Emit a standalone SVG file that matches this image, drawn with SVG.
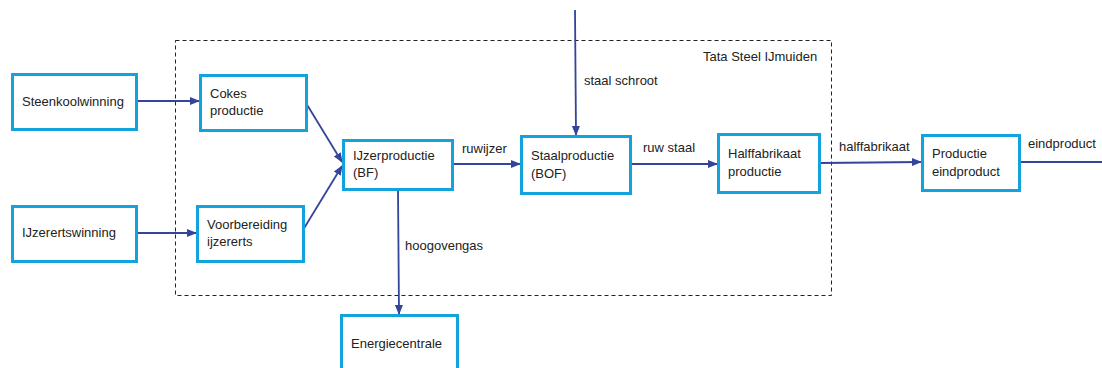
<svg xmlns="http://www.w3.org/2000/svg" width="1102" height="368" viewBox="0 0 1102 368">
<style>
.box{fill:#fff;stroke:#12A3DD;stroke-width:3}
.t{font-family:"Liberation Sans",Arial,sans-serif;font-size:13px;fill:#222}
.c{fill:none;stroke:#34449A;stroke-width:1.8}
.frame{fill:none;stroke:#222;stroke-width:1;stroke-dasharray:4 3}
</style>
<defs>
<marker id="ah" viewBox="0 0 10 10" refX="9" refY="5" markerWidth="10" markerHeight="10" markerUnits="userSpaceOnUse" orient="auto">
<path d="M0,1 L10,5 L0,9 Z" fill="#34449A"/>
</marker>
</defs>
<rect width="1102" height="368" fill="#fff"/>
<g id="frame">
<rect class="frame" x="175.5" y="40.5" width="656" height="255"/>
<text class="t" x="703" y="61">Tata Steel IJmuiden</text>
</g>
<g id="connectors">
<line class="c" x1="137" y1="101" x2="199" y2="101" marker-end="url(#ah)"/>
<line class="c" x1="137" y1="233" x2="196" y2="233" marker-end="url(#ah)"/>
<line class="c" x1="306" y1="103" x2="342" y2="162" marker-end="url(#ah)"/>
<line class="c" x1="303" y1="230" x2="342" y2="166" marker-end="url(#ah)"/>
<line class="c" x1="453" y1="164" x2="520" y2="164" marker-end="url(#ah)"/>
<line class="c" x1="631" y1="164" x2="717" y2="164" marker-end="url(#ah)"/>
<line class="c" x1="820" y1="163" x2="921" y2="162" marker-end="url(#ah)"/>
<line class="c" x1="1020" y1="162" x2="1102" y2="162"/>
<line class="c" x1="575" y1="10" x2="576" y2="135" marker-end="url(#ah)"/>
<line class="c" x1="398" y1="190" x2="399" y2="314" marker-end="url(#ah)"/>
<text class="t" x="462" y="153">ruwijzer</text>
<text class="t" x="643" y="152">ruw staal</text>
<text class="t" x="839" y="151">halffabrikaat</text>
<text class="t" x="1028" y="148">eindproduct</text>
<text class="t" x="584" y="85">staal schroot</text>
<text class="t" x="405" y="250">hoogovengas</text>
</g>
<g id="steenkoolwinning">
<rect class="box" x="12.5" y="74.5" width="124" height="55"/>
<text class="t" x="22" y="106">Steenkoolwinning</text>
</g>
<g id="ijzerertswinning">
<rect class="box" x="12.5" y="206.5" width="124" height="55"/>
<text class="t" x="22" y="237">IJzerertswinning</text>
</g>
<g id="cokes">
<rect class="box" x="200.5" y="75.5" width="106" height="55"/>
<text class="t" x="210" y="98">Cokes</text>
<text class="t" x="210" y="115">productie</text>
</g>
<g id="voorbereiding">
<rect class="box" x="197.5" y="206.5" width="106" height="55"/>
<text class="t" x="207" y="229">Voorbereiding</text>
<text class="t" x="207" y="246">ijzererts</text>
</g>
<g id="ijzerproductie">
<rect class="box" x="343.5" y="140.5" width="109" height="49"/>
<text class="t" x="353" y="160">IJzerproductie</text>
<text class="t" x="353" y="177">(BF)</text>
</g>
<g id="staalproductie">
<rect class="box" x="521.5" y="136.5" width="109" height="57"/>
<text class="t" x="531" y="160">Staalproductie</text>
<text class="t" x="531" y="178">(BOF)</text>
</g>
<g id="halffabrikaat">
<rect class="box" x="718.5" y="134.5" width="101" height="58"/>
<text class="t" x="728" y="158">Halffabrikaat</text>
<text class="t" x="728" y="176">productie</text>
</g>
<g id="productie-eindproduct">
<rect class="box" x="922.5" y="135.5" width="97" height="55"/>
<text class="t" x="932" y="158">Productie</text>
<text class="t" x="932" y="176">eindproduct</text>
</g>
<g id="energiecentrale">
<rect class="box" x="341.5" y="315.5" width="116" height="60"/>
<text class="t" x="351" y="348">Energiecentrale</text>
</g>
</svg>
